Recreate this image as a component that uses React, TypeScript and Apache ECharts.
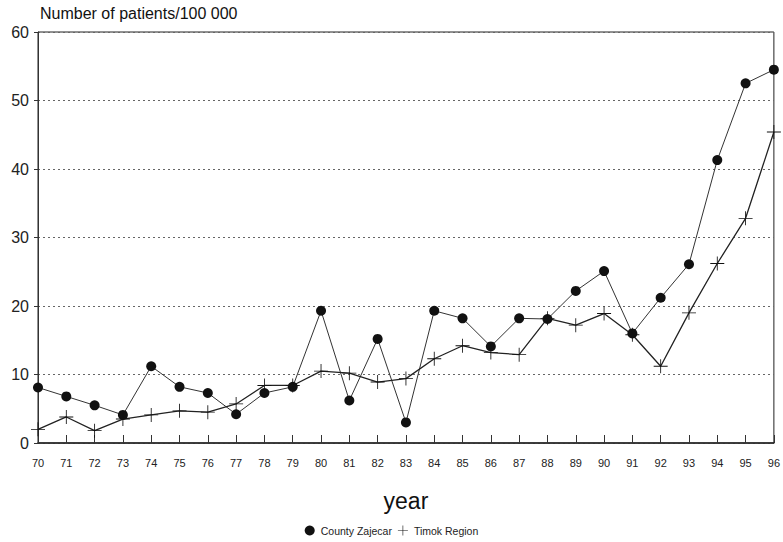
import React, { useEffect, useRef } from "react";
import * as echarts from "echarts";

const years = ["70","71","72","73","74","75","76","77","78","79","80","81","82","83","84","85","86","87","88","89","90","91","92","93","94","95","96"];
const zajecar = [8.1, 6.8, 5.5, 4.1, 11.2, 8.2, 7.3, 4.2, 7.3, 8.2, 19.3, 6.2, 15.2, 3.0, 19.3, 18.2, 14.1, 18.2, 18.1, 22.2, 25.1, 16.0, 21.2, 26.1, 41.3, 52.5, 54.5];
const timok = [2.0, 3.8, 1.8, 3.5, 4.1, 4.7, 4.5, 5.7, 8.4, 8.4, 10.5, 10.2, 8.9, 9.4, 12.3, 14.2, 13.2, 12.9, 18.2, 17.2, 18.9, 15.8, 11.2, 19.0, 26.2, 32.8, 45.4];
const yTicks = [0, 10, 20, 30, 40, 50, 60];

const crossPath = "path://M-0.6,-10h1.2v20h-1.2z M-10,-0.6h20v1.2h-20z";
const FONT = "'Liberation Sans', Arial, sans-serif";

export default function App() {
  const ref = useRef<HTMLDivElement>(null);
  useEffect(() => {
    const chart = echarts.init(ref.current!, null, { renderer: "svg" });
    chart.setOption({
      animation: false,
      backgroundColor: "#ffffff",
      textStyle: { fontFamily: FONT },
      grid: { left: 38, right: 4, top: 32, bottom: 99, show: true, borderColor: "#222", borderWidth: 1 },
      graphic: [
        { type: "text", left: 40, top: 5, style: { text: "Number of patients/100 000", font: `16px ${FONT}`, fill: "#111" } },
      ],
      xAxis: {
        type: "category",
        data: years,
        boundaryGap: false,
        name: "year",
        nameLocation: "middle",
        nameGap: 46,
        nameTextStyle: { fontSize: 23, color: "#111", fontFamily: FONT },
        axisLine: { lineStyle: { color: "#222", width: 1.5 } },
        axisTick: { inside: true, length: 8, lineStyle: { color: "#333" } },
        axisLabel: { fontSize: 11, color: "#222", margin: 14 },
        splitLine: { show: false },
      },
      yAxis: {
        type: "value",
        min: yTicks[0],
        max: yTicks[yTicks.length - 1],
        interval: 10,
        axisLine: { show: true, lineStyle: { color: "#333" } },
        axisTick: { show: true, length: 4, lineStyle: { color: "#333" } },
        axisLabel: { fontSize: 16, color: "#222", margin: 9 },
        splitLine: { show: true, lineStyle: { type: [2, 3], color: "#666", width: 1 } },
      },
      legend: {
        bottom: 1,
        left: "center",
        itemWidth: 12,
        itemHeight: 10,
        itemGap: 6,
        textStyle: { fontSize: 10.5, color: "#222" },
        data: [
          { name: "County Zajecar", icon: "circle" },
          { name: "Timok Region", icon: crossPath },
        ],
      },
      series: [
        {
          name: "County Zajecar",
          type: "line",
          data: zajecar,
          symbol: "circle",
          symbolSize: 10,
          itemStyle: { color: "#111" },
          lineStyle: { color: "#333", width: 1 },
        },
        {
          name: "Timok Region",
          type: "line",
          data: timok,
          symbol: crossPath,
          symbolSize: 14,
          itemStyle: { color: "#111" },
          lineStyle: { color: "#222", width: 1.3 },
        },
      ],
    });
    return () => chart.dispose();
  }, []);
  return <div ref={ref} style={{ position: "fixed", left: 0, top: 0, width: 783, height: 542 }} />;
}
